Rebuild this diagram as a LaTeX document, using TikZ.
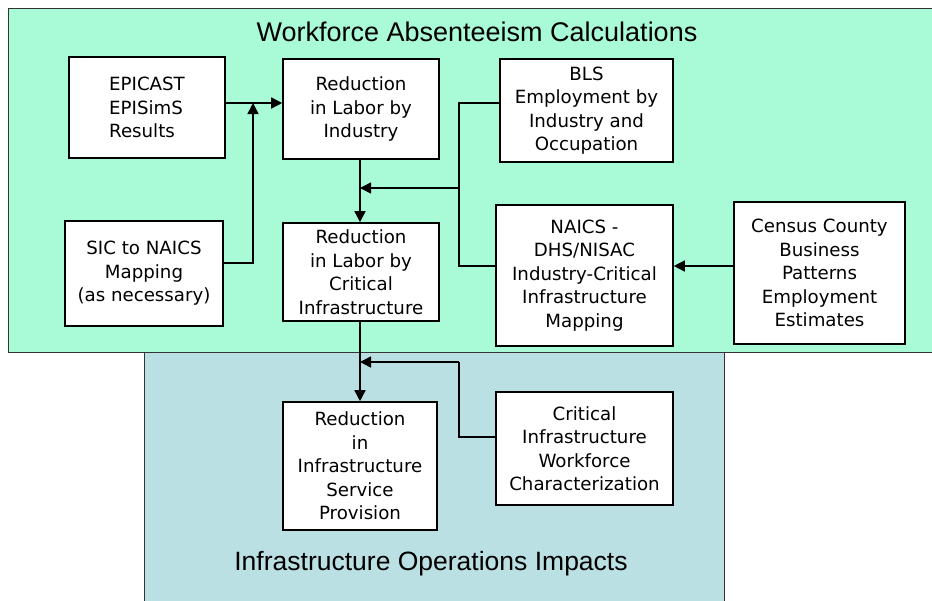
\documentclass[tikz,border=0pt]{standalone}
\usepackage{fontspec}
\setmainfont{DejaVu Sans}
\newfontfamily\titlefont{Liberation Sans}
\usetikzlibrary{arrows.meta}
\definecolor{greenbg}{RGB}{169,250,215}
\definecolor{bluebg}{RGB}{186,224,227}
\begin{document}
\begin{tikzpicture}[x=1pt,y=-1pt,
  box/.style={draw=black, line width=1.6pt, fill=white, align=center, inner sep=0pt,
    font=\fontsize{18.2}{23.5}\selectfont},
  conn/.style={line width=1.5pt},
  arr/.style={conn, -{Triangle[length=11pt,width=11pt]}},
  region/.style={draw=black!80, line width=0.9pt},
  titletext/.style={anchor=base, inner sep=0pt}]
\useasboundingbox (0,0) rectangle (932,600);
% regions
\draw[region, fill=bluebg] (144,352) rectangle (724,620);
\draw[region, fill=greenbg] (8,8) rectangle (950,352);
\node[titletext, font=\titlefont\fontsize{27}{30}\selectfont] (wtitle) at (477,41) {Workforce Absenteeism Calculations};
\node[titletext, font=\titlefont\fontsize{26.5}{30}\selectfont] (ititle) at (431,570) {Infrastructure Operations Impacts};
% boxes
\node[box, minimum width=156pt, minimum height=101pt, align=left] (epi) at (147,107.5) {EPICAST\\EPISimS\\Results};
\node[box, minimum width=156pt, minimum height=100pt] (redind) at (361,109) {Reduction\\in Labor by\\Industry};
\node[box, minimum width=158pt, minimum height=105pt] (sic) at (144,273.5) {SIC to NAICS\\Mapping\\(as necessary)};
\node[box, minimum width=156pt, minimum height=98pt] (redci) at (361,272) {Reduction\\in Labor by\\Critical\\Infrastructure};
\node[box, minimum width=173pt, minimum height=103pt] (bls) at (586.5,110.5) {BLS\\Employment by\\Industry and\\Occupation};
\node[box, minimum width=177pt, minimum height=141pt] (naics) at (584.5,275.5) {NAICS -\\DHS/NISAC\\Industry-Critical\\Infrastructure\\Mapping};
\node[box, minimum width=171pt, minimum height=142pt] (census) at (819.5,273) {Census County\\Business\\Patterns\\Employment\\Estimates};
\node[box, minimum width=154pt, minimum height=128pt] (redsvc) at (360,466) {Reduction\\in\\Infrastructure\\Service\\Provision};
\node[box, minimum width=177pt, minimum height=113pt] (ciwc) at (584.5,448.5) {Critical\\Infrastructure\\Workforce\\Characterization};
% junctions
\coordinate (j1) at (253,103);
\coordinate (j2) at (360,188);
\coordinate (k2) at (459,188);
\coordinate (j3) at (360,362);
\coordinate (k3) at (459,362);
% connectors
\draw[arr] (epi.east |- j1) -- (redind.west |- j1);
\draw[arr] (sic.east |- 0,263) -| (j1);
\draw[arr] (redind.south -| j2) -- (redci.north -| j2);
\draw[conn] (bls.west |- 0,103) -| (k2) |- (naics.west |- 0,266);
\draw[arr] (k2) -- (j2);
\draw[arr] (census.west |- 0,266) -- (naics.east |- 0,266);
\draw[arr] (redci.south -| j3) -- (redsvc.north -| j3);
\draw[conn] (ciwc.west |- 0,437) -| (k3);
\draw[arr] (k3) -- (j3);
\end{tikzpicture}
\end{document}
